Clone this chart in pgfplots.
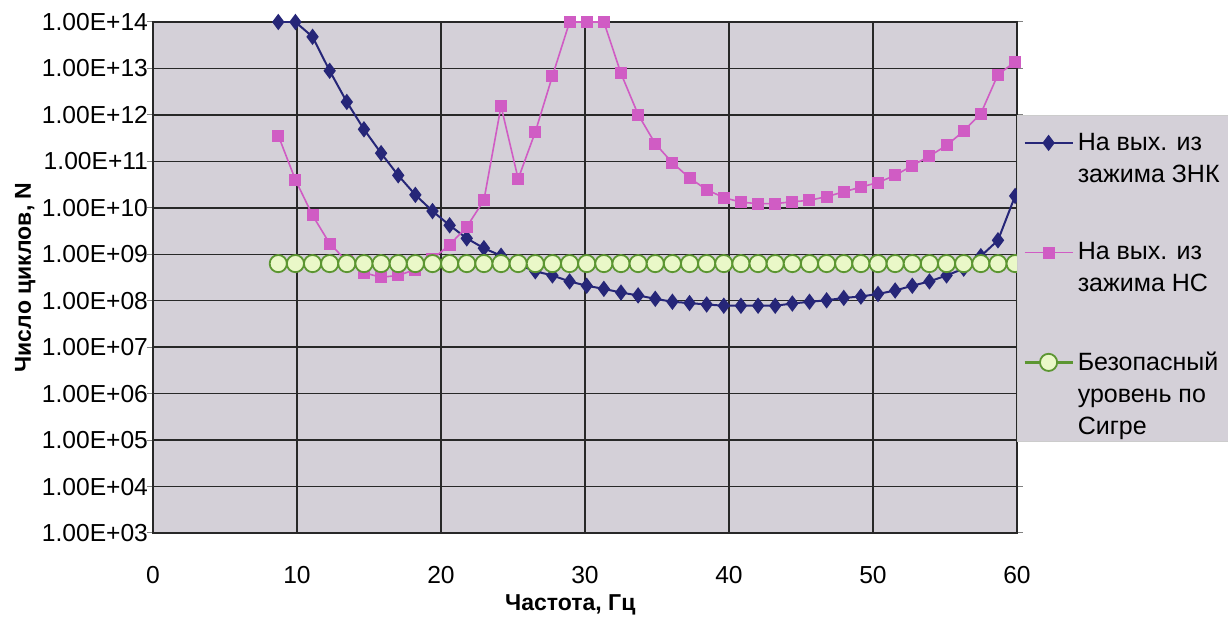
\documentclass[border=0pt]{standalone}
\usepackage{fontspec}
\setmainfont{Liberation Sans}
\usepackage{pgfplots}
\pgfplotsset{compat=1.18}

\definecolor{plotbg}{RGB}{212,208,216}
\definecolor{gridc}{RGB}{40,40,40}
\definecolor{znk}{RGB}{38,38,120}
\definecolor{ns}{RGB}{208,92,196}
\definecolor{safeedge}{RGB}{92,150,50}
\definecolor{safefill}{RGB}{234,248,200}

% legend sample raised to the first text line
\pgfplotsset{limg/.style={legend image code/.code={%
  \draw[yshift=#1,mark repeat=2,mark phase=2,##1] plot coordinates {(0pt,0pt) (12pt,0pt) (24pt,0pt)};}}}

\begin{document}
\begin{tikzpicture}
\begin{axis}[
  scale only axis, width=432pt, height=255.5pt,
  at={(0,0)}, anchor=south west,
  xmin=0, xmax=60, ymode=log, ymin=1e3, ymax=1e14,
  xtick={0,10,...,60},
  ytick={1e3,1e4,1e5,1e6,1e7,1e8,1e9,1e10,1e11,1e12,1e13,1e14},
  yticklabels={1.00E+03,1.00E+04,1.00E+05,1.00E+06,1.00E+07,1.00E+08,
               1.00E+09,1.00E+10,1.00E+11,1.00E+12,1.00E+13,1.00E+14},
  /pgf/number format/assume math mode=true,
  minor tick num=0, yminorticks=false,
  grid=major, major grid style={gridc, line width=0.7pt},
  axis background/.style={fill=plotbg},
  axis line style={gridc, line width=0.7pt},
  tick align=outside, major tick length=3pt,
  ytick style={gray, line width=0.5pt}, xtick style={draw=none},
  tick label style={font=\fontsize{12.3}{14}\selectfont},
  xticklabel shift=10pt,
  yticklabel style={xshift=4pt},
  xlabel={\bfseries Частота, Гц}, ylabel={\bfseries Число циклов, N},
  every axis x label/.style={at={(axis description cs:0.483,0)}, anchor=center, yshift=-36pt, font=\fontsize{11.5}{14}\selectfont},
  every axis y label/.style={at={(axis description cs:-0.148,0.5)}, rotate=90, anchor=center, font=\fontsize{11.5}{14}\selectfont},
  legend style={at={(1,0.818)}, anchor=north west, fill=plotbg, draw=gray!40,
    font=\fontsize{12.5}{16}\selectfont, cells={align=left}, row sep=24.5pt,
    inner xsep=3pt, inner ysep=0pt},
  legend cell align=left,
]
\addplot[znk, line width=1pt, mark=diamond*, mark size=3.3pt, mark options={fill=znk}, limg=4.75pt] coordinates {
(8.70,1.0e14) (9.89,1.0e14) (11.08,4.8e13) (12.27,8.9e12) (13.46,1.9e12)
(14.65,4.9e11) (15.84,1.5e11) (17.03,5.0e10) (18.22,1.9e10) (19.41,8.5e9)
(20.60,4.2e9) (21.79,2.2e9) (22.98,1.35e9) (24.17,9.3e8) (25.36,6.0e8)
(26.55,4.3e8) (27.74,3.5e8) (28.93,2.6e8) (30.12,2.1e8) (31.31,1.8e8)
(32.50,1.5e8) (33.69,1.3e8) (34.88,1.1e8) (36.07,9.5e7) (37.26,8.9e7)
(38.45,8.3e7) (39.64,7.8e7) (40.83,7.8e7) (42.02,7.8e7) (43.21,7.8e7)
(44.40,8.7e7) (45.59,9.5e7) (46.78,1.02e8) (47.97,1.15e8) (49.16,1.23e8)
(50.35,1.4e8) (51.54,1.66e8) (52.73,2.1e8) (53.92,2.6e8) (55.11,3.5e8)
(56.30,4.9e8) (57.49,9.1e8) (58.68,2.0e9) (59.87,1.8e10)
};
\addlegendentry{\rule{0pt}{15.5pt}На вых. из\\зажима ЗНК}
\addplot[ns, line width=0.8pt, mark=square*, mark size=2.6pt, mark options={fill=ns}, limg=8pt] coordinates {
(8.70,3.6e11) (9.89,4.0e10) (11.08,6.9e9) (12.27,1.7e9) (13.46,7.1e8)
(14.65,4.0e8) (15.84,3.2e8) (17.03,3.5e8) (18.22,4.7e8) (19.41,7.9e8)
(20.60,1.6e9) (21.79,3.9e9) (22.98,1.45e10) (24.17,1.55e12) (25.36,4.2e10)
(26.55,4.3e11) (27.74,6.9e12) (28.93,1.0e14) (30.12,1.0e14) (31.31,1.0e14)
(32.50,7.8e12) (33.69,1.02e12) (34.88,2.4e11) (36.07,9.3e10) (37.26,4.4e10)
(38.45,2.45e10) (39.64,1.66e10) (40.83,1.32e10) (42.02,1.23e10) (43.21,1.23e10)
(44.40,1.35e10) (45.59,1.45e10) (46.78,1.74e10) (47.97,2.2e10) (49.16,2.8e10)
(50.35,3.5e10) (51.54,5.0e10) (52.73,8.1e10) (53.92,1.3e11) (55.11,2.2e11)
(56.30,4.5e11) (57.49,1.07e12) (58.68,7.4e12) (59.87,1.38e13)
};
\addlegendentry{На вых. из\\зажима НС}
\addplot[safeedge, line width=1.2pt, mark=*, mark size=4.3pt, mark options={fill=safefill, draw=safeedge, line width=0.9pt}, limg=16pt] coordinates {
(8.70,6.3e8) (9.89,6.3e8) (11.08,6.3e8) (12.27,6.3e8) (13.46,6.3e8)
(14.65,6.3e8) (15.84,6.3e8) (17.03,6.3e8) (18.22,6.3e8) (19.41,6.3e8)
(20.60,6.3e8) (21.79,6.3e8) (22.98,6.3e8) (24.17,6.3e8) (25.36,6.3e8)
(26.55,6.3e8) (27.74,6.3e8) (28.93,6.3e8) (30.12,6.3e8) (31.31,6.3e8)
(32.50,6.3e8) (33.69,6.3e8) (34.88,6.3e8) (36.07,6.3e8) (37.26,6.3e8)
(38.45,6.3e8) (39.64,6.3e8) (40.83,6.3e8) (42.02,6.3e8) (43.21,6.3e8)
(44.40,6.3e8) (45.59,6.3e8) (46.78,6.3e8) (47.97,6.3e8) (49.16,6.3e8)
(50.35,6.3e8) (51.54,6.3e8) (52.73,6.3e8) (53.92,6.3e8) (55.11,6.3e8)
(56.30,6.3e8) (57.49,6.3e8) (58.68,6.3e8) (59.87,6.3e8)
};
\addlegendentry{Безопасный\\уровень по\\\raisebox{0pt}[\height][-4pt]{Сигре}}
\end{axis}
\pgfresetboundingbox
\useasboundingbox (-76.5pt,-44pt) rectangle (537.5pt,266.5pt);
\end{tikzpicture}
\end{document}
